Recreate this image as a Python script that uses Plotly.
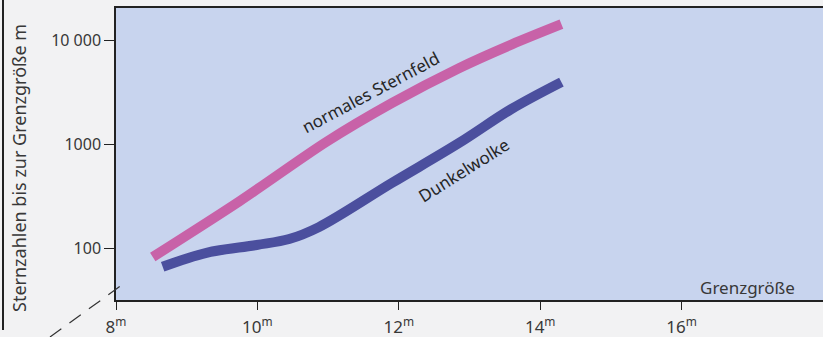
import plotly.graph_objects as go

# Data
mag_normal = [8.52, 9.75, 10.97, 11.90, 12.85, 13.60, 14.30]
cnt_normal = [82, 283, 1045, 2477, 5380, 9120, 14250]

mag_dark = [8.66, 9.28, 9.99, 10.45, 10.87, 11.90, 12.85, 13.59, 14.30]
cnt_dark = [66, 90, 107, 122, 159, 422, 1023, 2170, 3950]

x_ticks = [8, 10, 12, 14, 16, 18]
x_ticktext = [f"{v}<sup>m</sup>" for v in x_ticks]
y_ticks = [100, 1000, 10000]
y_ticktext = ["100", "1000", "10 000"]

FONT = "Noto Sans"
TXT = "#383838"

L, R, T, B, W, H = 116, 0, 8, 37, 823, 337
PW, PH = W - L - R, H - T - B

fig = go.Figure()
fig.add_trace(go.Scatter(x=mag_normal, y=cnt_normal, mode="lines",
                         line=dict(color="#c862a8", width=10, shape="spline", smoothing=0.8),
                         showlegend=False, hoverinfo="skip"))
fig.add_trace(go.Scatter(x=mag_dark, y=cnt_dark, mode="lines",
                         line=dict(color="#4b4f9e", width=10, shape="spline", smoothing=1.0),
                         showlegend=False, hoverinfo="skip"))

fig.update_layout(
    width=W, height=H,
    margin=dict(l=L, r=R, t=T, b=B),
    paper_bgcolor="#f2f2f3",
    plot_bgcolor="#c8d4ee",
    font=dict(family=FONT, color=TXT, size=16),
    xaxis=dict(range=[8, 18.0], tickvals=x_ticks, ticktext=x_ticktext, automargin=False,
               showgrid=False, zeroline=False, ticks="outside", ticklen=8,
               ticklabelstandoff=3,
               tickcolor="#222", showline=True, linecolor="#222", linewidth=1.5,
               mirror=True, tickfont=dict(size=17, color=TXT)),
    yaxis=dict(type="log", range=[1.5, 4.31], tickvals=y_ticks, ticktext=y_ticktext,
               automargin=False,
               showgrid=False, zeroline=False, ticks="outside", ticklen=10,
               tickcolor="#222", showline=True, linecolor="#222", linewidth=1.5,
               mirror=True, tickfont=dict(size=16, color=TXT)),
)


def px_to_dom(px, py):
    return (px - L) / PW, (H - B - py) / PH


def label(px, py, text, angle, size, color):
    ax, ay = px_to_dom(px, py)
    fig.add_annotation(x=ax, y=ay, xref="paper", yref="paper", text=text,
                       textangle=angle, showarrow=False, xanchor="center",
                       yanchor="middle", font=dict(size=size, color=color))


label(19, 168, "Sternzahlen bis zur Grenzgröße m", -90, 18, TXT)
label(370, 92, "normales Sternfeld", -28, 17, "#262626")
label(463, 170, "Dunkelwolke", -32, 17, "#262626")
label(747, 287, "Grenzgröße", 0, 17, TXT)

# axis break slash
x0, y0 = px_to_dom(50, 337)
x1, y1 = px_to_dom(126, 282)
fig.add_shape(type="line", xref="paper", yref="paper", x0=x0, y0=y0, x1=x1, y1=y1,
              line=dict(color="#333", width=1.2, dash="14px,10px"))
# page edge line at left
x0, y0 = px_to_dom(3, 0)
x1, y1 = px_to_dom(3, 330)
fig.add_shape(type="line", xref="paper", yref="paper", x0=x0, y0=y0, x1=x1, y1=y1,
              line=dict(color="#222", width=2))

fig.write_html("out.html", config={"displayModeBar": False},
               post_script="document.body.style.margin='0px';document.body.style.overflow='hidden';")
